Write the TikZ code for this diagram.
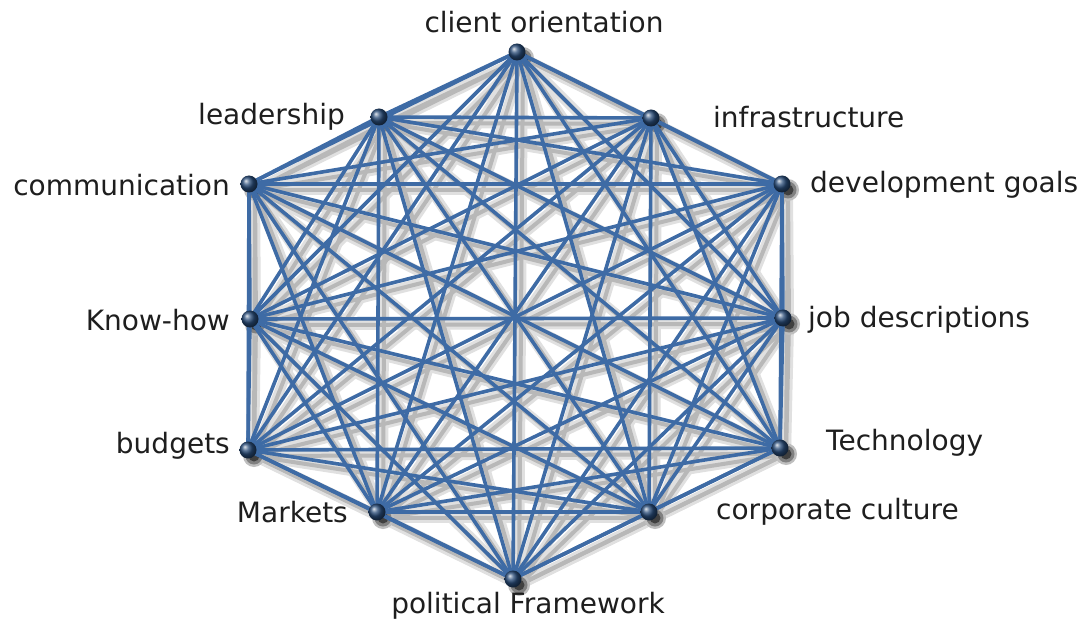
\documentclass[tikz,border=0pt]{standalone}
\usepackage{fontspec}
\setmainfont{DejaVu Sans}
\pgfdeclarelayer{paper}
\pgfdeclarelayer{shadow}
\pgfdeclarelayer{edges}
\pgfsetlayers{paper,shadow,edges,main}
\definecolor{edgeblue}{RGB}{62,107,165}
\definecolor{ballblue}{RGB}{40,75,120}
\definecolor{labelgray}{RGB}{30,30,30}
\tikzset{
  hub/.style={circle, inner sep=0pt, minimum size=17pt, shading=ball, ball color=ballblue},
  tag/.style={font=\fontsize{28}{32}\selectfont, text=labelgray, inner sep=0pt},
  edge/.style={draw=edgeblue, line width=3.6pt},
  edgeshade/.style={draw=black!12, line width=10pt},
  edgeshadecore/.style={draw=black!28, line width=4pt},
}
\begin{document}
\begin{tikzpicture}[x=1pt,y=-1pt]
\useasboundingbox (0,0) rectangle (1091,628);
\begin{pgfonlayer}{paper}
  \fill[white] (0,0) rectangle (1091,628);
\end{pgfonlayer}

% hubs on the ring
\node[hub] (n0)  at (517,52)  {};
\node[hub] (n1)  at (651,118) {};
\node[hub] (n2)  at (782,184) {};
\node[hub] (n3)  at (783,318) {};
\node[hub] (n4)  at (780,448) {};
\node[hub] (n5)  at (649,512) {};
\node[hub] (n6)  at (513,579) {};
\node[hub] (n7)  at (377,512) {};
\node[hub] (n8)  at (248,450) {};
\node[hub] (n9)  at (250,319) {};
\node[hub] (n10) at (249,184) {};
\node[hub] (n11) at (379,117) {};

% soft drop shadow, cast down and to the right
\begin{pgfonlayer}{shadow}
  \begin{scope}[transform canvas={shift={(6pt,-6pt)}}]
    \foreach \i [evaluate=\i as \k using int(\i+1)] in {0,...,10}
      \foreach \j in {\k,...,11}
        \draw[edgeshade] (n\i.center) -- (n\j.center);
    \foreach \i [evaluate=\i as \k using int(\i+1)] in {0,...,10}
      \foreach \j in {\k,...,11}
        \draw[edgeshadecore] (n\i.center) -- (n\j.center);
    \foreach \i in {0,...,11} {
      \fill[black!25] (n\i.center) circle (11);
      \fill[black!50] (n\i.center) circle (8.5);
      \fill[black!75] (n\i.center) circle (5.5);
    }
  \end{scope}
\end{pgfonlayer}

% every hub is linked to every other hub
\begin{pgfonlayer}{edges}
  \foreach \i [evaluate=\i as \k using int(\i+1)] in {0,...,10}
    \foreach \j in {\k,...,11}
      \draw[edge] (n\i.center) -- (n\j.center);
\end{pgfonlayer}

% labels
\node[tag] (t0)  at (544,22) {client orientation};
\node[tag, anchor=west] (t1)  at (713,117) {infrastructure};
\node[tag, anchor=west] (t2)  at (810,185) {development goals};
\node[tag, anchor=west] (t3)  at (808,320) {job descriptions};
\node[tag, anchor=west] (t4)  at (826,443) {Technology};
\node[tag, anchor=west] (t5)  at (716,512) {corporate culture};
\node[tag] (t6)  at (528,606) {political Framework};
\node[tag, anchor=east] (t7)  at (348,512) {Markets};
\node[tag, anchor=east] (t8)  at (230,446) {budgets};
\node[tag, anchor=east] (t9)  at (230,320) {Know-how};
\node[tag, anchor=east] (t10) at (230,185) {communication};
\node[tag, anchor=east] (t11) at (345,117) {leadership};
\end{tikzpicture}
\end{document}
